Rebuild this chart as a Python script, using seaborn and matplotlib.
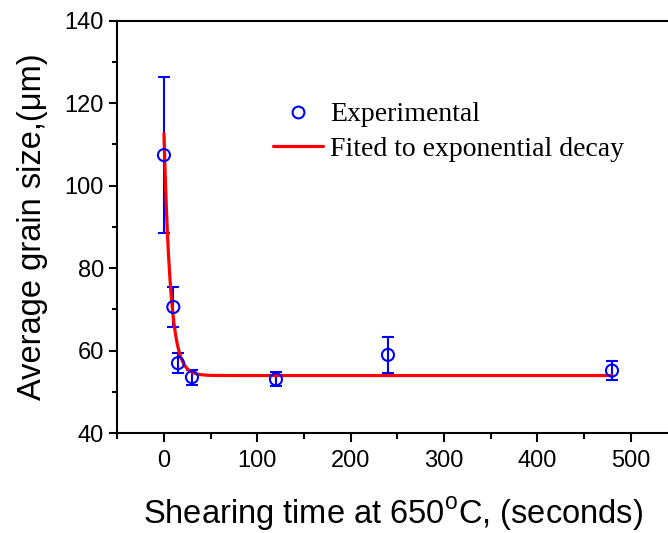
import numpy as np
import pandas as pd
import matplotlib
matplotlib.use("Agg")
import matplotlib.pyplot as plt
import seaborn as sns
from matplotlib.ticker import MultipleLocator
from matplotlib.lines import Line2D

time_s = [0, 10, 15, 30, 120, 240, 480]
grain_um = [107.4, 70.6, 57.0, 53.6, 53.1, 59.0, 55.2]
grain_err = [18.8, 4.8, 2.5, 1.8, 1.75, 4.4, 2.3]

# Exponential decay fit parameters: y = y0 + A*exp(-x/t)
fit_y0 = 54.0
fit_A = 58.6
fit_t = 7.0
fit_xmax = 480

sns.set_theme(style="ticks")
plt.rcParams['font.family'] = ['Liberation Sans', 'DejaVu Sans']
plt.rcParams['text.color'] = 'black'
plt.rcParams['axes.labelcolor'] = 'black'
plt.rcParams['xtick.color'] = 'black'
plt.rcParams['ytick.color'] = 'black'

fig = plt.figure(figsize=(6.68, 5.33), dpi=100)
ax = fig.add_axes([0.1756, 0.187, 0.8244, 0.7745])

fit_x = np.linspace(0, fit_xmax, 1200)
fit_df = pd.DataFrame({"x": fit_x, "y": fit_y0 + fit_A * np.exp(-fit_x / fit_t)})
exp_df = pd.DataFrame({"x": time_s, "y": grain_um})

ax.errorbar(time_s, grain_um, yerr=grain_err, fmt='none', ecolor='#0000ff',
            elinewidth=1.5, capsize=4.5, capthick=1.5, zorder=2)
sns.lineplot(data=fit_df, x="x", y="y", ax=ax, color='#ff0000', linewidth=2.3,
             zorder=3, legend=False)
sns.scatterplot(data=exp_df, x="x", y="y", ax=ax, marker='o', s=75,
                facecolor='none', edgecolor='#0000ff', linewidth=1.5,
                zorder=4, legend=False)

ax.set_xlim(-50, 540)
ax.set_ylim(40, 140)
ax.xaxis.set_major_locator(MultipleLocator(100))
ax.xaxis.set_minor_locator(MultipleLocator(50))
ax.yaxis.set_major_locator(MultipleLocator(20))
ax.yaxis.set_minor_locator(MultipleLocator(10))

for s in ['left', 'bottom', 'top']:
    ax.spines[s].set_linewidth(1.5)
    ax.spines[s].set_color('black')
ax.spines['right'].set_visible(False)

ax.tick_params(axis='x', which='major', direction='out', length=6.5, width=1.5,
               labelsize=17, colors='black', pad=5.5)
ax.tick_params(axis='x', which='minor', direction='out', length=4.3, width=1.5,
               colors='black')
ax.tick_params(axis='y', which='major', direction='out', length=6, width=1.5,
               labelsize=17, colors='black', pad=3.5)
ax.tick_params(axis='y', which='minor', direction='out', length=3.5, width=1.5,
               colors='black')

ax.set_xlabel("Shearing time at 650$^\\mathregular{o}$C, (seconds)", fontsize=23.5,
              labelpad=17, color='black')
ax.set_ylabel("Average grain size,(\u03bcm)", fontsize=23.5, labelpad=12, color='black')

handles = [
    Line2D([], [], marker='o', linestyle='none', markersize=8.5,
           markerfacecolor='none', markeredgecolor='#0000ff', markeredgewidth=1.5),
    Line2D([], [], color='#ff0000', linewidth=2.3),
]
leg = ax.legend(handles, ["Experimental", "Fited to exponential decay"],
                loc='upper left', bbox_to_anchor=(0.283, 0.803), frameon=False,
                borderpad=0, borderaxespad=0, handlelength=1.8, handletextpad=0.25,
                labelspacing=0.32, prop={'family': 'Liberation Serif', 'size': 20})
for t in leg.get_texts():
    t.set_color('black')

fig.savefig("out.png", dpi=100)
